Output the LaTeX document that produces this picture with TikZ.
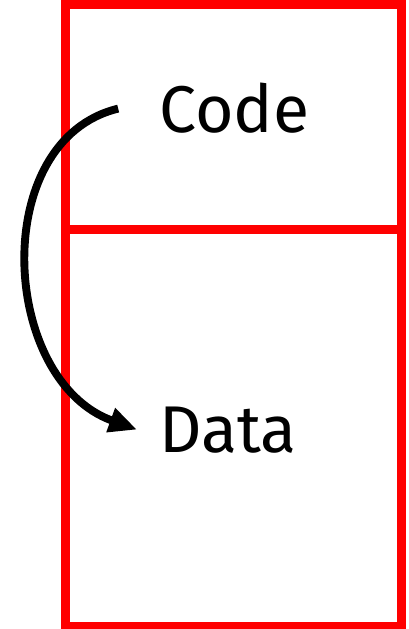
\documentclass[tikz,border=0pt]{standalone}
\usepackage{fontspec}
\setmainfont{Fira Sans}
\usetikzlibrary{arrows.meta}
\definecolor{wall}{HTML}{FF0000}
\definecolor{ink}{HTML}{000000}
\tikzset{
  wallline/.style={draw=wall,line width=6.4pt},
  seglabel/.style={font=\fontsize{47}{52}\selectfont,text=ink,inner sep=0pt,anchor=base west},
  jump/.style={-{Triangle[length=7mm,width=6mm]},line width=5.6pt,draw=ink}
}
\begin{document}
\begin{tikzpicture}[x=0.025cm,y=-0.025cm]
        \useasboundingbox (0,0) rectangle (408,629);
        \draw[wallline] (65,5) rectangle (401,626);
        \draw[wallline] (65,229) -- (397,229);

        \node[seglabel] (code) at (159,133) {Code};
        \node[seglabel] (data) at (159,452) {Data};

        \draw[jump] ([xshift=-1.02cm]code.west)
          .. controls (-12,140) and (0,380) .. ([xshift=-0.55cm]data.west);
      \end{tikzpicture}
\end{document}
